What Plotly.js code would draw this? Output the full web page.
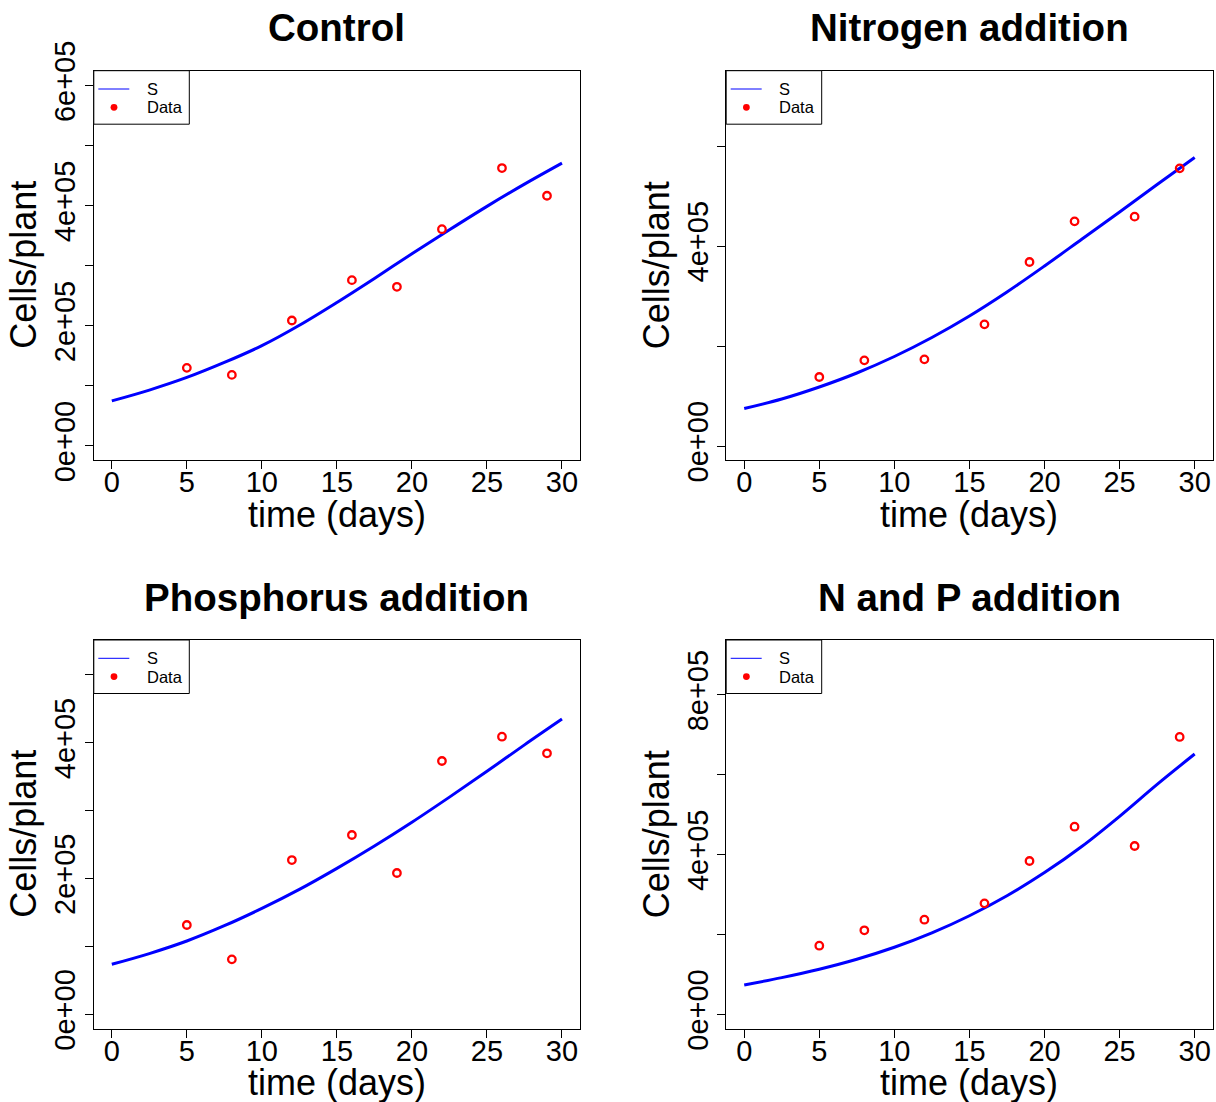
<!DOCTYPE html>
<html><head><meta charset="utf-8">
<script src="https://cdn.plot.ly/plotly-3.0.1.min.js"></script>
<style>html,body{margin:0;padding:0;background:#fff;} #chart{width:1216px;height:1102px;}</style>
</head><body><div id="chart"></div>
<script>
// ---- data ----
const days = [5, 8, 12, 16, 19, 22, 26, 29];
const fitDays = [0, 2.5, 5, 7.5, 10, 12.5, 15, 17.5, 20, 22.5, 25, 27.5, 30];

const controlData = [130000, 118300, 208900, 276100, 265000, 361000, 462800, 416700];
const controlFit = [75000, 93000, 114000, 139000, 167000, 201000, 239000, 279000, 320000, 360000, 399000, 436000, 471000];

const nitrogenData = [138000, 171300, 173300, 243300, 368000, 449300, 458700, 555300];
const nitrogenFit = [75000, 94000, 118000, 146000, 179000, 217000, 260000, 308000, 360000, 414000, 468000, 523000, 577000];

const phosphorusData = [131600, 81000, 227300, 264200, 208200, 373200, 409000, 384600];
const phosphorusFit = [73700, 89500, 108000, 130500, 156000, 184000, 215000, 248000, 283000, 320000, 358000, 397000, 435000];

const npData = [171900, 210400, 237000, 278000, 384000, 470000, 421600, 694800];
const npFit = [73400, 92000, 113000, 138000, 168000, 204000, 247000, 297000, 355000, 421000, 496000, 576000, 652000];

const panelTitles = ['Control', 'Nitrogen addition', 'Phosphorus addition', 'N and P addition'];
const xTitle = 'time (days)';
const yTitle = 'Cells/plant';
const seriesNames = ['S', 'Data'];

const xTickVals = [0, 5, 10, 15, 20, 25, 30];
const xTickText = ['0', '5', '10', '15', '20', '25', '30'];
const yTickVals1 = [0, 1e5, 2e5, 3e5, 4e5, 5e5, 6e5];
const yTickText1 = ['0e+00', '', '2e+05', '', '4e+05', '', '6e+05'];
const yTickVals2 = [0, 2e5, 4e5, 6e5];
const yTickText2 = ['0e+00', '', '4e+05', ''];
const yTickVals3 = [0, 1e5, 2e5, 3e5, 4e5, 5e5];
const yTickText3 = ['0e+00', '', '2e+05', '', '4e+05', ''];
const yTickVals4 = [0, 2e5, 4e5, 6e5, 8e5];
const yTickText4 = ['0e+00', '', '4e+05', '', '8e+05'];

// ---- layout geometry ----
const W = 1216, H = 1102;
const FONT = '"Liberation Sans", Arial, Helvetica, sans-serif';
const cols = [[93.8, 580.0], [726.2, 1212.7]];
const rows = [[70.7, 460.0], [640.0, 1028.7]];
const yRanges = [[-23500, 625000], [-28000, 750600], [-21200, 551500], [-36000, 937600]];
const fits = [controlFit, nitrogenFit, phosphorusFit, npFit];
const datas = [controlData, nitrogenData, phosphorusData, npData];
const yTV = [yTickVals1, yTickVals2, yTickVals3, yTickVals4];
const yTT = [yTickText1, yTickText2, yTickText3, yTickText4];

const px = x => x / W;
const py = y => 1 - y / H;

const traces = [];
const layout = {
  width: W, height: H,
  margin: {l: 0, r: 0, t: 0, b: 0},
  paper_bgcolor: '#fff', plot_bgcolor: '#fff',
  font: {family: FONT, color: '#000'},
  showlegend: false,
  annotations: [],
  shapes: []
};

for (let i = 0; i < 4; i++) {
  const c = cols[i % 2], r = rows[Math.floor(i / 2)];
  const n = i + 1;
  const sfx = n === 1 ? '' : String(n);
  const xa = 'x' + sfx, ya = 'y' + sfx;
  traces.push({
    x: fitDays, y: fits[i], xaxis: xa, yaxis: ya, type: 'scatter', mode: 'lines',
    name: seriesNames[0],
    line: {color: '#0000ff', width: 3, shape: 'spline', smoothing: 1},
    hoverinfo: 'skip'
  });
  traces.push({
    x: days, y: datas[i], xaxis: xa, yaxis: ya, type: 'scatter', mode: 'markers',
    name: seriesNames[1],
    marker: {symbol: 'circle-open', size: 7.5, color: '#ff0000', line: {width: 2.3, color: '#ff0000'}}
  });

  const axCommon = {
    showline: true, mirror: true, linecolor: '#000', linewidth: 1,
    showgrid: false, zeroline: false, ticks: 'outside', ticklen: 8, tickwidth: 1, tickcolor: '#000',
    tickfont: {size: 29, family: FONT, color: '#000'}, tickmode: 'array', fixedrange: true
  };
  layout['xaxis' + sfx] = Object.assign({}, axCommon, {
    domain: [px(c[0]), px(c[1])], anchor: ya, range: [-1.2, 31.2],
    tickvals: xTickVals, ticktext: xTickText, ticklabelstandoff: -12
  });
  layout['yaxis' + sfx] = Object.assign({}, axCommon, {
    domain: [py(r[1]), py(r[0])], anchor: xa, range: yRanges[i],
    tickvals: yTV[i], ticktext: yTT[i], tickangle: -90, ticklabelstandoff: -2
  });

  // legend (box, line sample, dot, labels)
  const L = c[0], T = r[0];
  layout.shapes.push({type: 'rect', xref: 'paper', yref: 'paper',
    x0: px(L), x1: px(L + 95.5), y0: py(T), y1: py(T + 53.5),
    line: {color: '#000', width: 1}, fillcolor: '#fff', layer: 'above'});
  layout.shapes.push({type: 'line', xref: 'paper', yref: 'paper',
    x0: px(L + 4.5), x1: px(L + 35.5), y0: py(T + 18.3), y1: py(T + 18.3),
    line: {color: '#0000ff', width: 1}, layer: 'above'});
  layout.shapes.push({type: 'circle', xref: 'paper', yref: 'paper',
    x0: px(L + 20.2 - 3.4), x1: px(L + 20.2 + 3.4), y0: py(T + 36.6 - 3.4), y1: py(T + 36.6 + 3.4),
    line: {color: '#ff0000', width: 0}, fillcolor: '#ff0000', layer: 'above'});
  layout.annotations.push({
    text: seriesNames[0], x: px(L + 51), y: py(T + 18), xref: 'paper', yref: 'paper',
    xanchor: 'left', yanchor: 'middle', showarrow: false, font: {size: 16.5, family: FONT, color: '#000'}
  });
  layout.annotations.push({
    text: seriesNames[1], x: px(L + 51), y: py(T + 36.5), xref: 'paper', yref: 'paper',
    xanchor: 'left', yanchor: 'middle', showarrow: false, font: {size: 16.5, family: FONT, color: '#000'}
  });

  const cx = (c[0] + c[1]) / 2;
  layout.annotations.push({
    text: '<b>' + panelTitles[i] + '</b>', x: px(cx), y: py(r[0] - 43), xref: 'paper', yref: 'paper',
    xanchor: 'center', yanchor: 'middle', showarrow: false, font: {size: 38.5, family: FONT, color: '#000'}
  });
  layout.annotations.push({
    text: xTitle, x: px(cx), y: py(r[1] + 54), xref: 'paper', yref: 'paper',
    xanchor: 'center', yanchor: 'middle', showarrow: false, font: {size: 36, family: FONT, color: '#000'}
  });
  layout.annotations.push({
    text: yTitle, x: px(c[0] - 70.3), y: py((r[0] + r[1]) / 2), xref: 'paper', yref: 'paper',
    xanchor: 'center', yanchor: 'middle', textangle: -90, showarrow: false,
    font: {size: 36, family: FONT, color: '#000'}
  });
}

Plotly.newPlot('chart', traces, layout, {displayModeBar: false, staticPlot: true});
</script>
</body></html>
